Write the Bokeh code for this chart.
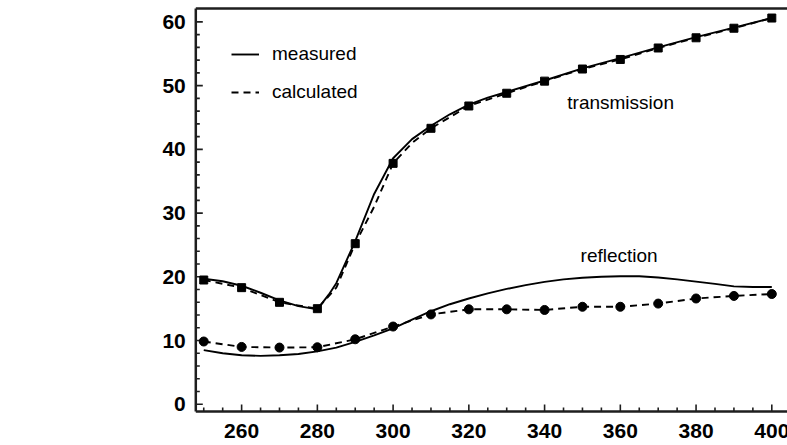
from bokeh.plotting import figure
from bokeh.models import Range1d, Legend, LegendItem, Label
from bokeh.core.properties import value
from bokeh.embed import file_html
from bokeh.resources import INLINE

# ---------------- data ----------------
# measured transmission (solid)
tm_x = [250, 255, 260, 265, 270, 275, 280, 283, 285, 290, 295, 300, 305, 310,
        315, 320, 325, 330, 340, 350, 360, 370, 380, 390, 400]
tm_y = [19.7, 19.3, 18.6, 17.5, 16.3, 15.4, 14.9, 17.2, 19.0, 25.6, 33.0, 38.6,
        41.6, 43.7, 45.5, 47.0, 48.1, 49.0, 50.8, 52.7, 54.3, 56.0, 57.6, 59.1, 60.6]

# calculated transmission (dashed line + square markers)
tc_line_x = [250, 260, 270, 280, 285, 290, 295, 300, 305, 310, 320, 330, 340,
             350, 360, 370, 380, 390, 400]
tc_line_y = [19.5, 18.3, 16.0, 15.0, 18.3, 25.2, 31.0, 37.8, 41.0, 43.3, 46.8,
             48.8, 50.7, 52.6, 54.1, 55.9, 57.5, 59.0, 60.6]
tc_x = [250, 260, 270, 280, 290, 300, 310, 320, 330, 340, 350, 360, 370, 380, 390, 400]
tc_y = [19.5, 18.3, 16.0, 15.0, 25.2, 37.8, 43.3, 46.8, 48.8, 50.7, 52.6, 54.1,
        55.9, 57.5, 59.0, 60.6]

# measured reflection (solid)
rm_x = [250, 255, 260, 265, 270, 275, 280, 285, 290, 295, 300, 305, 310, 315,
        320, 325, 330, 335, 340, 345, 350, 355, 360, 365, 370, 375, 380, 385,
        390, 395, 400]
rm_y = [8.5, 8.0, 7.7, 7.6, 7.7, 7.9, 8.3, 8.9, 9.8, 10.8, 11.9, 13.3, 14.6,
        15.7, 16.6, 17.4, 18.1, 18.7, 19.2, 19.6, 19.85, 20.0, 20.1, 20.1, 19.9,
        19.6, 19.25, 18.9, 18.5, 18.4, 18.4]

# calculated reflection (dashed line + circle markers)
rc_x = [250, 260, 270, 280, 290, 300, 310, 320, 330, 340, 350, 360, 370, 380, 390, 400]
rc_y = [9.85, 9.0, 8.9, 8.95, 10.2, 12.2, 14.1, 14.9, 14.9, 14.8, 15.3, 15.3,
        15.8, 16.6, 17.0, 17.3]

x_major = [260, 280, 300, 320, 340, 360, 380, 400]
x_labels = ["260", "280", "300", "320", "340", "360", "380", "400"]
x_minor = [250, 255, 265, 270, 275, 285, 290, 295, 305, 310, 315, 325, 330, 335,
           345, 350, 355, 365, 370, 375, 385, 390, 395]
y_major = [0, 10, 20, 30, 40, 50, 60]
y_labels = ["0", "10", "20", "30", "40", "50", "60"]
y_minor = [2, 4, 6, 8, 12, 14, 16, 18, 22, 24, 26, 28, 32, 34, 36, 38, 42, 44,
           46, 48, 52, 54, 56, 58]

legend_labels = ["measured", "calculated"]
annot = {"transmission": (346.0, 47.3), "reflection": (349.5, 23.4)}

# axis frame (data coordinates of the drawn axes)
XA, XR = 247.9, 404.1      # left axis position, right end of top/bottom lines
YA, YT = -1.13, 62.1       # bottom axis position, top border

W, H = 787, 445
PX_X = 3.787               # pixels per x unit
PX_Y = 6.374               # pixels per y unit
LEFT_PX, BOTTOM_PX = 195.3, 411.0

x_start = XA - LEFT_PX / PX_X
x_end = x_start + W / PX_X
y_end = YA + BOTTOM_PX / PX_Y
y_start = y_end - H / PX_Y

ux = 1.0 / PX_X
uy = 1.0 / PX_Y

# ---------------- figure (plot area = whole window) ----------------
p = figure(width=W, height=H, output_backend="svg", toolbar_location=None,
           x_range=Range1d(x_start, x_end), y_range=Range1d(y_start, y_end),
           x_axis_location=None, y_axis_location=None,
           min_border_left=0, min_border_right=0, min_border_top=0,
           min_border_bottom=0)
p.grid.visible = False
p.outline_line_color = None
p.background_fill_color = "white"
p.border_fill_color = "white"

AX = "#1e1e1e"
FONT = "Liberation Sans"

# axis lines and top border
p.line([XA, XA], [YA, YT], line_color=AX, line_width=2.5)
p.line([XA, XR], [YA, YA], line_color=AX, line_width=2.5)
p.line([XA, XR], [YT, YT], line_color=AX, line_width=2.5)

# inward ticks from the tick lists
p.segment(x0=x_major, y0=[YA] * len(x_major), x1=x_major,
          y1=[YA + 7 * uy] * len(x_major), line_color=AX, line_width=1.6)
p.segment(x0=x_minor, y0=[YA] * len(x_minor), x1=x_minor,
          y1=[YA + 4 * uy] * len(x_minor), line_color=AX, line_width=1.6)
p.segment(x0=[XA] * len(y_major), y0=y_major, x1=[XA + 7 * ux] * len(y_major),
          y1=y_major, line_color=AX, line_width=1.6)
p.segment(x0=[XA] * len(y_minor), y0=y_minor, x1=[XA + 4 * ux] * len(y_minor),
          y1=y_minor, line_color=AX, line_width=1.6)

# tick labels
p.text(x=x_major, y=[YA - 19 * uy] * len(x_major), text=x_labels,
       text_font=value(FONT), text_font_style="bold",
       text_font_size=value("21px"), text_color="black",
       text_align="center", text_baseline="middle")
p.text(x=[XA - 10 * ux] * len(y_major), y=y_major, text=y_labels,
       text_font=value(FONT), text_font_style="bold",
       text_font_size=value("21px"), text_color="black",
       text_align="right", text_baseline="middle")

# ---------------- data glyphs ----------------
r_tm = p.line(tm_x, tm_y, line_color="black", line_width=1.9)
p.line(tc_line_x, tc_line_y, line_color="black", line_width=1.9, line_dash="7 5")
p.scatter(tc_x, tc_y, marker="square", size=8, fill_color="black", line_color="black")

p.line(rm_x, rm_y, line_color="black", line_width=1.9)
r_rc = p.line(rc_x, rc_y, line_color="black", line_width=1.9, line_dash="7 5")
p.scatter(rc_x, rc_y, marker="circle", size=9, fill_color="black", line_color="black")

legend = Legend(items=[LegendItem(label=legend_labels[0], renderers=[r_tm]),
                       LegendItem(label=legend_labels[1], renderers=[r_rc])],
                location=(231, 342))
legend.border_line_color = None
legend.background_fill_alpha = 0
legend.glyph_width = 28
legend.glyph_height = 20
legend.label_standoff = 13
legend.spacing = 16
legend.label_text_font = FONT
legend.label_text_font_size = "19px"
legend.label_text_color = "black"
p.add_layout(legend)

for txt, (lx, ly) in annot.items():
    p.add_layout(Label(x=lx, y=ly, text=txt, text_font=FONT,
                       text_font_size="19px", text_color="black",
                       text_baseline="middle", text_align="left"))

open("out.html", "w").write(file_html(p, INLINE))
